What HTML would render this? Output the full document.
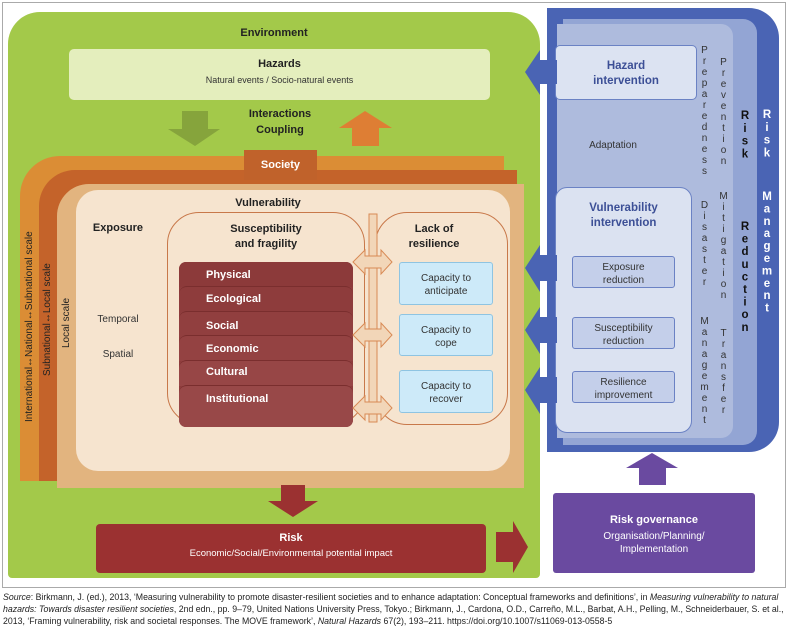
<!DOCTYPE html>
<html><head><meta charset="utf-8"><style>
body{margin:0;width:787px;height:625px;background:#fff;position:relative;overflow:hidden;font-family:"Liberation Sans",sans-serif;}
.a{position:absolute;}
.t{position:absolute;text-align:center;color:#222;}
.b{font-weight:bold;}
.v{position:absolute;writing-mode:vertical-rl;text-orientation:upright;font-size:10px;color:#333;letter-spacing:0px;line-height:10px;}
.r{transform-origin:left top;transform:rotate(-90deg);white-space:nowrap;font-size:10px;color:#222;position:absolute;}
.cap{position:absolute;background:#cdeaf9;border:1px solid #8ec4e2;border-radius:3px;font-size:10px;color:#333;text-align:center;box-sizing:border-box;padding-top:9px;line-height:13px;}
.iv{position:absolute;background:#c4cfea;border:1px solid #6b82c4;border-radius:3px;font-size:10px;color:#333;text-align:center;box-sizing:border-box;padding-top:4px;line-height:13px;}
.row{position:absolute;left:0;width:174px;border-top:1px solid #7a2e2e;border-radius:8px 8px 0 0;color:#fff;font-weight:bold;font-size:11px;padding-left:27px;box-sizing:border-box;}
</style></head><body>
<div class="a" style="left:2px;top:2px;width:782px;height:584px;border:1px solid #aaa;"></div>
<div class="a" style="left:8px;top:12px;width:532px;height:566px;background:#a3c94a;border-radius:32px 32px 4px 4px;"></div>
<div class="t b" style="left:8px;width:532px;top:27px;font-size:11px;">Environment</div>
<div class="a" style="left:69px;top:49px;width:421px;height:51px;background:#e4eebd;border-radius:5px;"></div>
<div class="t b" style="left:69px;width:421px;top:58px;font-size:11px;">Hazards</div>
<div class="t" style="left:69px;width:421px;top:75px;font-size:9px;color:#333;">Natural events / Socio-natural events</div>
<div class="t b" style="left:220px;width:120px;top:106px;font-size:11px;line-height:16px;">Interactions<br>Coupling</div>
<div class="a" style="left:20px;top:156px;width:484px;height:325px;background:#db8d35;border-radius:40px 0 0 0;"></div>
<div class="a" style="left:39px;top:170px;width:478px;height:311px;background:#c4632a;border-radius:36px 0 0 0;"></div>
<div class="a" style="left:57px;top:184px;width:467px;height:304px;background:#e2b47f;border-radius:32px 0 0 0;"></div>
<div class="a" style="left:244px;top:150px;width:73px;height:30px;background:#c0622b;"></div>
<div class="t b" style="left:244px;width:73px;top:159px;font-size:11px;color:#fff;">Society</div>
<div class="a" style="left:76px;top:190px;width:434px;height:281px;background:#f6e4cf;border-radius:22px;"></div>
<div class="r" style="left:24px;top:422px;">International↔National↔Subnational scale</div>
<div class="r" style="left:42px;top:376px;">Subnational↔Local scale</div>
<div class="r" style="left:61px;top:348px;">Local scale</div>
<div class="t b" style="left:208px;width:120px;top:197px;font-size:11px;">Vulnerability</div>
<div class="t b" style="left:88px;width:60px;top:222px;font-size:11px;">Exposure</div>
<div class="t" style="left:88px;width:60px;top:314px;font-size:10px;color:#333;">Temporal</div>
<div class="t" style="left:88px;width:60px;top:349px;font-size:10px;color:#333;">Spatial</div>
<div class="a" style="left:167px;top:212px;width:198px;height:213px;border:1px solid #c8784a;border-radius:32px;box-sizing:border-box;"></div>
<div class="a" style="left:375px;top:212px;width:133px;height:213px;border:1px solid #c8784a;border-radius:32px;box-sizing:border-box;"></div>
<div class="t b" style="left:167px;width:198px;top:222px;font-size:11px;line-height:15px;">Susceptibility<br>and fragility</div>
<div class="t b" style="left:375px;width:118px;top:222px;font-size:11px;line-height:15px;">Lack of<br>resilience</div>
<div class="a" style="left:179px;top:262px;width:174px;height:165px;background:#8e3c3c;border-radius:7px;overflow:hidden;">
 <div class="row" style="top:-1px;height:26px;border:none;padding-top:8px;background:#8c3a3a;">Physical</div>
 <div class="row" style="top:24px;height:26px;padding-top:6px;background:#8e3c3c;">Ecological</div>
 <div class="row" style="top:49px;height:26px;padding-top:8px;background:#913f3f;">Social</div>
 <div class="row" style="top:73px;height:26px;padding-top:7px;background:#944242;">Economic</div>
 <div class="row" style="top:98px;height:26px;padding-top:5px;background:#974646;">Cultural</div>
 <div class="row" style="top:123px;height:45px;padding-top:7px;background:#984848;">Institutional</div>
</div>
<div class="cap" style="left:399px;top:262px;width:94px;height:43px;">Capacity to<br>anticipate</div>
<div class="cap" style="left:399px;top:314px;width:94px;height:42px;">Capacity to<br>cope</div>
<div class="cap" style="left:399px;top:370px;width:94px;height:43px;">Capacity to<br>recover</div>
<div class="a" style="left:96px;top:524px;width:390px;height:49px;background:#9b3131;border-radius:4px;"></div>
<div class="t b" style="left:96px;width:390px;top:532px;font-size:11px;color:#fff;">Risk</div>
<div class="t" style="left:96px;width:390px;top:548px;font-size:9.5px;color:#fff;">Economic/Social/Environmental potential impact</div>
<div class="a" style="left:547px;top:8px;width:232px;height:444px;background:#4a64b4;border-radius:0 30px 30px 0;"></div>
<div class="a" style="left:563px;top:19px;width:194px;height:426px;background:#93a5d4;border-radius:0 14px 14px 0;"></div>
<div class="a" style="left:557px;top:24px;width:176px;height:414px;background:#aebbdd;border-radius:0 12px 12px 0;"></div>
<div class="a" style="left:555px;top:45px;width:142px;height:55px;background:#dce3f2;border:1px solid #6b82c4;border-radius:5px;box-sizing:border-box;"></div>
<div class="t b" style="left:555px;width:142px;top:59px;font-size:11.5px;color:#3c4f96;line-height:15px;">Hazard<br>intervention</div>
<div class="t" style="left:573px;width:80px;top:140px;font-size:10px;color:#333;">Adaptation</div>
<div class="a" style="left:555px;top:187px;width:137px;height:246px;background:#dbe2f1;border:1px solid #6b82c4;border-radius:12px;box-sizing:border-box;"></div>
<div class="t b" style="left:555px;width:137px;top:201px;font-size:11.5px;color:#3c4f96;line-height:15px;">Vulnerability<br>intervention</div>
<div class="iv" style="left:572px;top:256px;width:103px;height:32px;">Exposure<br>reduction</div>
<div class="iv" style="left:572px;top:317px;width:103px;height:32px;">Susceptibility<br>reduction</div>
<div class="iv" style="left:572px;top:371px;width:103px;height:32px;">Resilience<br>improvement</div>
<div class="v" style="left:699px;top:45px;">Preparedness</div>
<div class="v" style="left:718px;top:57px;">Prevention</div>
<div class="v" style="left:699px;top:200px;">Disaster</div>
<div class="v" style="left:718px;top:191px;">Mitigation</div>
<div class="v" style="left:699px;top:316px;">Management</div>
<div class="v" style="left:718px;top:328px;">Transfer</div>
<div class="v" style="left:739px;top:110px;font-size:11.5px;font-weight:bold;color:#111;line-height:12px;letter-spacing:0.8px;">Risk</div>
<div class="v" style="left:739px;top:221px;font-size:11.5px;font-weight:bold;color:#111;line-height:12px;letter-spacing:0.6px;">Reduction</div>
<div class="v" style="left:761px;top:109px;font-size:11.5px;font-weight:bold;color:#fff;line-height:12px;letter-spacing:0.8px;">Risk</div>
<div class="v" style="left:761px;top:191px;font-size:11.5px;font-weight:bold;color:#fff;line-height:12px;letter-spacing:0.4px;">Management</div>
<div class="a" style="left:553px;top:493px;width:202px;height:80px;background:#6a4aa0;border-radius:3px;"></div>
<div class="t b" style="left:553px;width:202px;top:514px;font-size:11px;color:#fff;">Risk governance</div>
<div class="t" style="left:553px;width:202px;top:530px;font-size:10px;color:#fff;line-height:13px;">Organisation/Planning/<br>Implementation</div>
<svg class="a" style="left:0;top:0" width="787" height="625">
 <polygon points="182,111 208,111 208,129 220,129 195,146 168,129 182,129" fill="#86a43c"/>
 <polygon points="352,146 379,146 379,128 392,128 365,111 339,128 352,128" fill="#de7e34"/>
 <polygon points="281,485 305,485 305,501 318,501 293,517 268,501 281,501" fill="#9b3131"/>
 <polygon points="496,532 513,532 513,521 528,547 513,573 513,562 496,562" fill="#9b3131"/>
 <polygon points="639,485 666,485 666,468 678,468 652,453 626,468 639,468" fill="#6a4aa0"/>
 <g fill="#4a64b4">
  <polygon points="525,72 540,50 540,60 557,60 557,84 540,84 540,95"/>
  <polygon points="525,268 540,245 540,255 557,255 557,281 540,281 540,292"/>
  <polygon points="525,330 540,307 540,317 557,317 557,343 540,343 540,354"/>
  <polygon points="525,390 540,367 540,377 557,377 557,403 540,403 540,414"/>
 </g>
 <g fill="#f2d6b8" stroke="#d88a55" stroke-width="1">
  <rect x="369" y="214" width="8" height="208"/>
  <polygon points="353,262 365,250 365,256 381,256 381,250 392,262 381,274 381,268 365,268 365,274"/>
  <polygon points="353,335 365,323 365,329 381,329 381,323 392,335 381,347 381,341 365,341 365,347"/>
  <polygon points="353,408 365,396 365,402 381,402 381,396 392,408 381,420 381,414 365,414 365,420"/>
 </g>
</svg>
<div class="a" style="left:3px;top:591px;width:782px;font-size:8.75px;line-height:12px;color:#222;"><i>Source</i>: Birkmann, J. (ed.), 2013, ‘Measuring vulnerability to promote disaster-resilient societies and to enhance adaptation: Conceptual frameworks and definitions’, in <i>Measuring vulnerability to natural hazards: Towards disaster resilient societies</i>, 2nd edn., pp. 9–79, United Nations University Press, Tokyo.; Birkmann, J., Cardona, O.D., Carreño, M.L., Barbat, A.H., Pelling, M., Schneiderbauer, S. et al., 2013, ‘Framing vulnerability, risk and societal responses. The MOVE framework’, <i>Natural Hazards</i> 67(2), 193–211. https://doi.org/10.1007/s11069-013-0558-5</div>
</body></html>
